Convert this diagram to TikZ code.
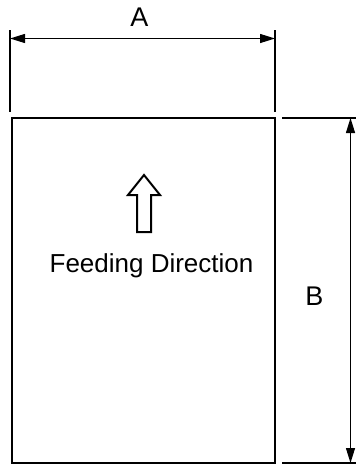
\documentclass[tikz,border=0pt]{standalone}
\usepackage{fontspec}
\setmainfont{Liberation Sans}
\usetikzlibrary{arrows.meta}
\begin{document}
\begin{tikzpicture}[x=1pt,y=-1pt,
  thin line/.style={line width=1.1pt},
  thick line/.style={line width=2pt},
  dimarrow/.style={thin line,{Triangle[length=15pt,width=9pt]}-{Triangle[length=15pt,width=9pt]}},
  lbl/.style={inner sep=0pt,font=\fontsize{27}{30}\selectfont}]
\useasboundingbox (0,0) rectangle (356,466);
% sheet
\draw[thick line] (11.5,118) rectangle (275,463);
% dimension A
\coordinate (a1) at (10,30);
\coordinate (a2) at (10,112);
\coordinate (a3) at (275,30);
\coordinate (a4) at (275,112);
\draw[thin line] (a1) -- (a2);
\draw[thin line] (a3) -- (a4);
\coordinate (al) at (10,38.5);
\coordinate (ar) at (275,38.5);
\draw[dimarrow] (al) -- (ar);
\node[lbl,anchor=base] (A) at (139.5,26.5) {A};
% dimension B
\coordinate (b1) at (282,118);
\coordinate (b2) at (356,118);
\coordinate (b3) at (282,463);
\coordinate (b4) at (356,463);
\draw[thin line] (b1) -- (b2);
\draw[thin line] (b3) -- (b4);
\coordinate (bt) at (350.5,118);
\coordinate (bb) at (350.5,463);
\draw[dimarrow] (bt) -- (bb);
\node[lbl,anchor=base] (B) at (314.5,305) {B};
% hollow arrow
\draw[thick line,line join=miter] (144,175) -- (160,195) -- (151,195) -- (151,232) -- (137,232) -- (137,195) -- (128,195) -- cycle;
\node[inner sep=0pt,font=\fontsize{26}{29}\selectfont,anchor=base] (fd) at (151.5,272.5) {Feeding Direction};
\end{tikzpicture}
\end{document}
